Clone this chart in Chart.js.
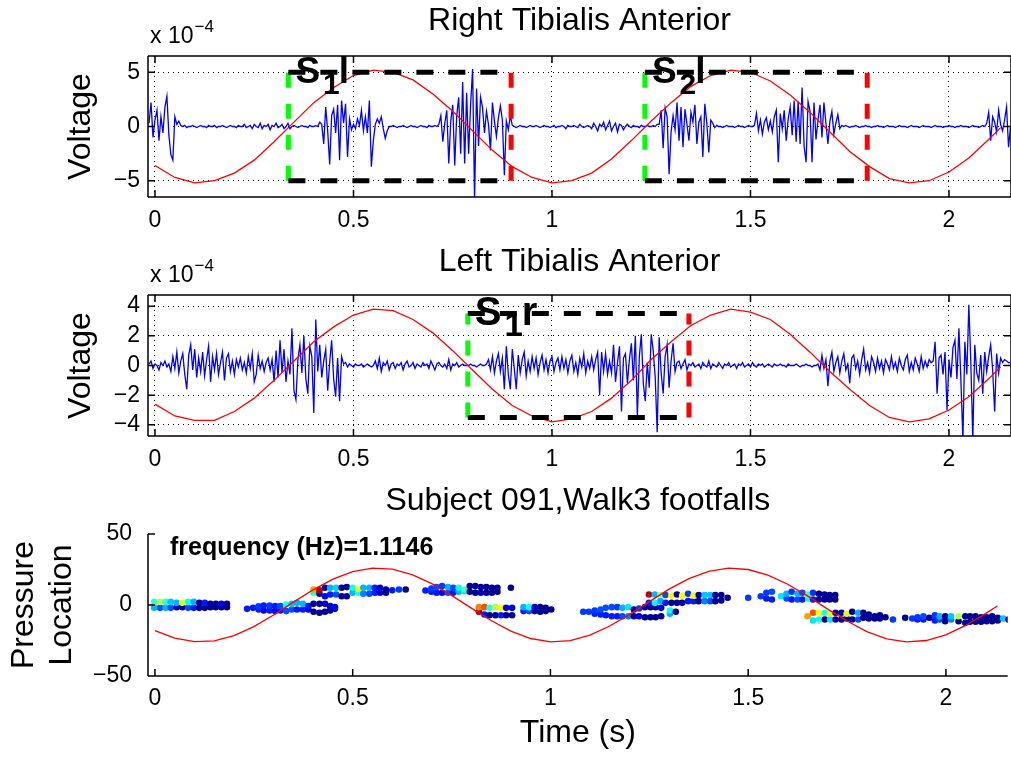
<!DOCTYPE html>
<html>
<head>
<meta charset="utf-8">
<title>Subject 091 Walk3 - tibialis anterior EMG and footfalls</title>
<script src="https://cdn.jsdelivr.net/npm/chart.js@4/dist/chart.umd.min.js"></script>
<style>
  body { margin: 0; background: #fff; }
  #wrap { position: relative; width: 1011px; height: 757px; overflow: hidden; }
  canvas { position: absolute; left: 0; }
</style>
</head>
<body>
<div id="wrap">
  <canvas id="rightTA" width="1011" height="240" style="top:0px"></canvas>
  <canvas id="leftTA" width="1011" height="240" style="top:240px"></canvas>
  <canvas id="footfalls" width="1011" height="277" style="top:480px"></canvas>
</div>
<script>
// EMG channels share one sample grid (seconds), values in units of 1e-4 V
const emgStart = -0.015;
const emgStep = 0.005;

const rightTA = [
  0.3, 2.2, -1.0, 0.6, 1.5, -1.3, 0.9, -0.6, 1.8, 2.8, -0.8, -2.6, -3.1, 0.9, 0.2, 0.5, 0.1,
  0.0, 0.1, -0.1, 0.0, 0.0, 0.1, 0.0, -0.1, 0.0, 0.1,
  0.0, 0.0, -0.1, 0.1, 0.0, 0.0, 0.1, -0.1, 0.0, 0.0,
  0.1, 0.0, -0.1, 0.0, 0.1, 0.0, 0.0, -0.1, 0.1, 0.0,
  0.0, 0.2, -0.1, 0.0, 0.1, -0.2, 0.2, 0.0, -0.1, 0.3,
  -0.2, 0.1, 0.0, 0.2, -0.3, 0.1, 0.0, 0.3, -0.1, 0.0,
  0.2, -0.2, 0.0, 0.3, -0.2, 0.0, 0.1, 0.0, -0.1, 0.0,
  0.1, 0.0, 0.0, -0.1, 0.1, 0.0, 0.0, 0.1, 0.0,
  0.4, 0.2, -1.6, 1.8, -0.4, -3.5, 1.0, 1.6, -0.6, 2.0, -3.1, 2.4, 0.3, 2.1, -2.8, 0.7, -0.3, 0.2,
  -0.2, 0.7, 0.1, 1.5, -0.4, 0.9, -0.6, 2.4, -3.7, -1.3, 0.2, 0.7, 0.3, 0.9, -0.2, -1.1, -0.4, 0.0,
  0.0, 0.1, 0.0, -0.1, 0.0, 0.0, 0.1, 0.0, -0.1, 0.0, 0.1, 0.0, 0.0, -0.1, 0.0, 0.1, 0.0, 0.0, -0.1, 0.1, 0.0, 0.0, 0.1, 0.0,
  0.2, 1.0, -1.4, 0.3, 1.5, -3.4, 0.5, 2.0, -3.6, 1.0, 2.7, -2.5, 4.1, -3.4, 3.1, -2.5, 2.0, 5.3, -6.8,
  3.5, -1.8, 2.7, 1.8, -0.6, 1.4, 0.2, -2.2, 2.2, 0.5, -0.9, 0.8, 1.9, 0.6, -4.5, 0.5, -0.3, 1.0,
  0.1, 0.0, -0.1, 0.0, 0.1, 0.0, 0.0, -0.1, 0.0, 0.1,
  0.0, 0.0, 0.1, 0.0, -0.1, 0.0, 0.1, 0.0, 0.0, -0.1,
  0.0, 0.1, -0.1, 0.0, 0.0, 0.1, 0.0, -0.2, 0.1, 0.0,
  0.0, 0.1, 0.0, -0.1, 0.2, 0.0, -0.1, 0.0, 0.1, 0.0,
  -0.2, 0.3, 0.0, -0.4, 0.2, 0.0, 0.4, -0.3, 0.1, 0.5,
  -0.4, 0.0, 0.3, -0.5, 0.2, 0.1, -0.3, 0.0, 0.2, 0.0,
  -0.1, 0.1, 0.0, 0.0, -0.1, 0.1, 0.0, 0.0, 0.1, 0.0,
  0.0, 0.1, 0.0, 0.2,
  0.2, 1.5, -2.0, 1.7, 0.9, -4.4, -0.5, 1.0, -0.3, 2.2, -1.3, 1.8, -1.9, 1.6, 0.2,
  -1.3, 1.3, 0.4, 2.0, -1.6, 0.4, 0.9, -2.8, 2.1, 0.3, -2.4, 0.6, 0.3, -0.1,
  0.1, 0.0, 0.0, -0.1, 0.0, 0.1, 0.0, 0.0, 0.0, -0.1, 0.0, 0.1, 0.0, 0.0, -0.1, 0.0, 0.1, 0.0, 0.0,
  0.1, 1.2, -0.4, 0.6, -0.7, 0.4, 0.8, -0.3, 0.5, -0.5,
  0.9, 1.5, -3.3, 1.2, -0.2, 1.5, -1.3, 0.7, 1.8, -0.8,
  2.4, -1.4, 2.3, -1.6, 3.6, -1.8, -3.3, 2.3, 1.4, -3.3,
  2.2, -1.2, 0.6, 2.0, -1.0, 2.2, 0.3, -1.6, 0.5, 1.4,
  -0.7, 0.3, 1.1, -0.2, 0.1,
  0.0, 0.1, 0.0, -0.1, 0.0, 0.0, 0.1, 0.0, -0.1, 0.0,
  0.0, 0.1, 0.0, 0.0, -0.1, 0.0, 0.0, 0.1, 0.0, 0.0,
  -0.1, 0.0, 0.1, 0.0, 0.0, 0.0, -0.1, 0.0, 0.1, 0.0,
  0.0, 0.0, -0.1, 0.0, 0.1, 0.0, 0.0, 0.0, -0.1, 0.0,
  0.1, 0.0, 0.0, 0.0, -0.1, 0.0, 0.1, 0.0, 0.0, 0.0,
  -0.1, 0.0, 0.0, 0.1, 0.0, 0.0, -0.1, 0.0, 0.0, 0.1,
  0.0, 0.0, 0.0, -0.1, 0.0, 0.1, 0.0, 0.0, -0.1, 0.0,
  0.1, 0.0,
  0.3, 1.3, -1.3, 0.9, 0.4, -0.5, 1.5, 0.2, -0.4, 0.6, 1.8, -1.9, 0.0
];

const leftTA = [
  0.1, 0.3, -0.2, 0.1, 0.0, -0.3, 0.2, 0.0, 0.3, -0.1, 0.1,
  -0.4, 0.6, -0.2, 0.9, -0.5, 0.3, 0.8, -0.6, -1.6, 0.7,
  1.4, -0.3, 1.1, -0.8, 0.5, -0.4, 0.9, -0.7, 0.4, 1.3,
  -1.1, 0.6, -0.3, 0.8, -0.6, 0.2, 0.9, -1.0, 0.5, 0.8,
  -0.4, 0.3, -0.6, 0.4, -0.1,
  0.5, -0.3, 0.2, -0.5, 0.6, -0.2, 0.8, -1.1,
  -0.6, 0.7, -0.2, 0.3, -0.4, 0.2, 0.5, -0.3, 0.4, -1.1,
  1.0, -0.8, 1.7, -0.5, 1.1, -1.1, 0.3, -0.6, 2.5, -1.7,
  -2.3, 0.4, 1.4, -0.5, 2.0, -0.9, -1.9, 1.3, 0.6, -3.2,
  3.1, -0.4, 1.4, -0.8, 0.3, 1.1, -1.7, 0.2, 1.7, -0.9,
  -2.1, 0.5, -2.4, 0.6, 0.1,
  0.2, -0.1, 0.1, 0.0, -0.1, 0.1, 0.0, 0.0, 0.1, -0.1, 0.0, 0.1, 0.0, -0.1, 0.0,
  0.3, -0.2, 0.5, -0.4, 0.2, 0.0, 0.3, -0.3, 0.1, 0.2,
  -0.2, 0.1, 0.0, 0.2, -0.3, 0.1, 0.3, -0.1, 0.0, 0.2,
  -0.2, 0.1, 0.0, -0.1, 0.2, 0.0, 0.1, -0.2, 0.3, 0.0,
  -0.3, 0.1, 0.2, 0.0, -0.1, 0.1, -0.2, 0.4, -0.3, 0.1,
  0.0, 0.2, -0.1, 0.0, 0.1, 0.0,
  0.0, 0.0, 0.1, 0.0, 0.0, -0.1, 0.0, 0.1, 0.0, 0.0, 0.1,
  0.4, -0.3, 0.6, -0.5, 0.3, 0.8, -0.4, 0.5, -1.6, 1.3,
  -0.6, -1.6, 1.1, -0.2, -1.6, 0.7, -0.5, 0.4, 0.9, -0.7,
  0.3, -0.4, 0.6, -0.2, 0.5, -0.6, 0.2, 0.7, -0.3, 0.4,
  -0.5, 0.3, 0.6, -0.4, 0.2, 0.5,
  -0.3, 0.6, -0.2, 0.4, -0.5, 0.3, 0.7, -0.4, 0.2, -0.6,
  0.5, -0.1, 0.8, -0.5, 0.3, -0.2, 0.6, -0.3, 0.4, 0.9,
  -2.0,
  0.9, -0.4, 0.8, -0.6, 0.3, -0.5, 1.4, -1.1, 0.2, 1.3,
  -3.1, 0.5, 0.8, -1.2, 0.4, 1.5, -1.0, 2.0, -3.4, 0.6,
  2.1, -1.2, -2.4, 0.2, -1.5, 2.1, 1.0, -0.8, -4.5, 1.9,
  -0.5, -1.9, 0.6, 1.4, -1.5, 0.3, 1.5, -0.4, 0.2,
  0.3, -0.2, 0.1, 0.4, -0.3, 0.1, 0.0, 0.2, -0.1, 0.0,
  0.1, -0.2, 0.2, 0.0, -0.1, 0.3, -0.2, 0.1, 0.0, -0.1,
  0.2, 0.0, -0.2, 0.1, 0.0, 0.2, -0.1, 0.0, 0.1, -0.2,
  0.1, 0.0, 0.2, -0.1, 0.0, 0.1, -0.1, 0.2, 0.0, -0.1,
  0.1, 0.0, 0.1, -0.1, 0.0, 0.1, 0.0, -0.1, 0.1, 0.0,
  0.0, 0.1, 0.0, 0.0, -0.1, 0.1, 0.0, 0.0, 0.0, 0.1,
  0.0, -0.1, 0.0, 0.0, 0.1, 0.0, 0.0, -0.1, 0.0, 0.0,
  0.1,
  -0.3, 0.7, -0.2, 0.4, -1.4, 0.3, 0.9, -0.4, 0.2, 0.6,
  -0.5, 0.3, 0.8, -0.3, 0.1, -1.2, 0.5, 0.7, -0.2, 0.3,
  -0.6, 0.4, 1.1, -0.3, 0.2, -0.5, 0.6, 0.2, -0.4, 0.5,
  -0.2, 0.3, -0.5, 0.4, 0.1, -0.3, 0.6, -0.2, 0.2, -0.4,
  0.5, 0.0, -0.3, 0.4, 0.7, -0.4, 0.2, -0.3, 0.5, 0.1,
  -0.4, 0.6, -0.2, 0.3, -0.1, 0.4, 0.2,
  0.3, 1.6, -1.9, 0.5, 0.7, -0.6, 0.9, -3.0, 0.4, -0.8,
  1.2, 1.7, -0.9, 2.5, -1.0, -5.0, 1.6, -0.6, 4.1, 0.2,
  -5.0, 1.4, -0.5, -1.0, 0.7, -1.9, 0.9, -0.4, 0.6, 1.4,
  -0.3, -3.1, 0.8, -0.5, 0.5, 0.2, 0.4, 0.3, 0.2, 0.2
];

// fitted gait rhythm, drawn over every panel
const gaitFrequency = 1.1146;
const fitTime = [
  0.00, 0.05, 0.10, 0.15, 0.20, 0.25, 0.30, 0.35, 0.40, 0.45,
  0.50, 0.55, 0.60, 0.65, 0.70, 0.75, 0.80, 0.85, 0.90, 0.95,
  1.00, 1.05, 1.10, 1.15, 1.20, 1.25, 1.30, 1.35, 1.40, 1.45,
  1.50, 1.55, 1.60, 1.65, 1.70, 1.75, 1.80, 1.85, 1.90, 1.95,
  2.00, 2.05, 2.10, 2.13
];
const fitRight = [
  -3.6, -4.7, -5.2, -5.0, -4.3, -3.1, -1.4, 0.4, 2.2, 3.6,
  4.7, 5.2, 5.0, 4.3, 3.0, 1.4, -0.4, -2.2, -3.7, -4.7,
  -5.2, -5.0, -4.3, -3.0, -1.3, 0.5, 2.2, 3.7, 4.7, 5.2,
  5.0, 4.2, 2.9, 1.3, -0.5, -2.3, -3.7, -4.8, -5.2, -5.0,
  -4.2, -2.9, -1.2, -0.1
];
const fitLeft = [
  -2.6, -3.4, -3.7, -3.7, -3.1, -2.2, -1.0, 0.3, 1.6, 2.6,
  3.4, 3.8, 3.7, 3.1, 2.2, 1.0, -0.3, -1.6, -2.7, -3.4,
  -3.8, -3.6, -3.1, -2.2, -1.0, 0.4, 1.6, 2.7, 3.4, 3.8,
  3.6, 3.1, 2.1, 0.9, -0.4, -1.6, -2.7, -3.5, -3.8, -3.6,
  -3.0, -2.1, -0.9, -0.1
];
const fitPressure = [
  -18.0, -23.3, -25.8, -25.2, -21.5, -15.2, -7.0, 2.0, 10.7, 18.2,
  23.5, 25.9, 25.2, 21.4, 15.0, 6.8, -2.2, -10.9, -18.4, -23.6,
  -25.9, -25.1, -21.2, -14.8, -6.6, 2.4, 11.2, 18.6, 23.7, 25.9,
  25.0, 21.1, 14.6, 6.4, -2.7, -11.3, -18.7, -23.8, -25.9, -25.0,
  -21.0, -14.4, -6.1, -0.7
];

// step windows boxed on the EMG panels
const rightStepStart = [0.336, 1.234];
const rightStepEnd = [0.897, 1.794];
const rightStepNames = ['1', '2'];
const rightBoxLevel = 5;
const leftStepStart = [0.788];
const leftStepEnd = [1.345];
const leftStepNames = ['1'];
const leftBoxLevel = 3.5;

// footfall centre of pressure: one column per frame, top/bottom sensor and its pressure level (0..1)
const footT = [
  -0.002, 0.013, 0.027, 0.040, 0.055, 0.069, 0.084, 0.098, 0.112, 0.126, 0.140, 0.154, 0.168, 0.182,
  0.233, 0.248, 0.262, 0.275, 0.290, 0.304, 0.317, 0.332, 0.346, 0.359, 0.374, 0.388, 0.401, 0.416, 0.430, 0.443, 0.455,
  0.401, 0.416, 0.430, 0.443, 0.458, 0.472, 0.485, 0.500, 0.514, 0.527, 0.542, 0.556, 0.569, 0.584, 0.600, 0.617, 0.634,
  0.684, 0.699, 0.712, 0.726, 0.741, 0.754, 0.768, 0.783, 0.796, 0.810, 0.824, 0.838, 0.852, 0.866, 0.900,
  0.819, 0.833, 0.846, 0.861, 0.875, 0.888, 0.903,
  0.932, 0.946, 0.960, 0.974, 0.988, 1.002,
  1.083, 1.097, 1.112, 1.127, 1.140, 1.155, 1.169, 1.182, 1.197, 1.211, 1.224, 1.239, 1.253, 1.266, 1.280, 1.302, 1.317,
  1.249, 1.264, 1.278, 1.291, 1.306, 1.320, 1.333, 1.348, 1.362, 1.375, 1.390, 1.404, 1.417, 1.432, 1.448, 1.500,
  1.532, 1.546, 1.560, 1.583, 1.597, 1.610, 1.625, 1.637, 1.652, 1.664, 1.679, 1.693, 1.706, 1.720,
  1.650, 1.664, 1.679, 1.694, 1.707, 1.721, 1.736, 1.749, 1.763, 1.778, 1.791, 1.805, 1.820, 1.833, 1.847, 1.866,
  1.897, 1.915, 1.928, 1.943, 1.958, 1.972, 1.984, 1.998, 2.013, 2.032, 2.049, 2.061, 2.075, 2.089, 2.103, 2.117, 2.131, 2.145, 2.158
];
const footHi = [
  2.2, 2.2, 2.2, 2.2, 1.5, 1.5, 2.2, 2.2, 1.5, 1.5, 0.8, 0.8, 0.8, 0.8,
  -2.7, -2.0, -1.0, -0.3, -0.3, -0.8, -0.8, 0.4, 0.8, 1.5, 0.8, -0.8, 0.8, 0.8, 0.8, -0.8, -1.5,
  10.9, 10.4, 12.1, 12.1, 12.1, 12.1, 12.6, 12.1, 11.6, 12.1, 12.1, 12.1, 12.1, 10.9, 10.4, 10.9, 10.9,
  10.2, 11.6, 12.6, 13.3, 12.6, 12.1, 12.1, 10.9, 13.3, 13.3, 12.6, 12.6, 12.1, 12.1, 12.1,
  -1.5, -1.5, -2.0, -1.5, -2.0, -2.0, -2.0,
  -1.5, -1.5, -1.5, -1.5, -2.0, -3.2,
  -4.8, -4.8, -3.9, -3.2, -2.0, -1.5, -1.5, -2.0, -1.5, -3.2, -2.5, -1.5, -1.5, -1.5, -2.0, -3.9, -4.8,
  7.4, 7.4, 7.0, 7.0, 6.6, 7.4, 6.6, 7.9, 6.6, 7.0, 7.0, 7.0, 7.0, 7.0, 5.1, 5.1,
  6.2, 8.6, 9.3, 6.2, 7.9, 9.3, 7.9, 8.6, 7.4, 8.6, 7.9, 7.4, 7.0, 7.0,
  -7.9, -5.5, -5.5, -5.5, -6.2, -5.5, -5.5, -6.2, -4.8, -5.5, -5.5, -6.7, -7.9, -7.2, -8.6, -10.2,
  -9.0, -9.5, -8.6, -7.9, -9.0, -7.2, -7.9, -7.9, -7.9, -7.9, -7.9, -7.9, -7.9, -8.6, -8.6, -7.9, -9.0, -9.5, -10.2
];
const footLo = [
  -2.0, -2.0, -2.0, -2.0, -1.5, -1.5, -2.0, -2.0, -2.0, -2.0, -1.5, -1.5, -1.5, -1.5,
  -2.7, -2.0, -3.2, -3.9, -3.9, -4.3, -3.9, -4.3, -3.2, -3.2, -3.2, -3.2, -4.8, -5.5, -4.8, -3.9, -2.7,
  8.6, 7.9, 6.2, 7.4, 7.4, 6.2, 6.2, 8.6, 8.6, 7.9, 7.9, 8.6, 8.6, 8.6, 10.4, 10.9, 10.9,
  10.2, 9.3, 8.6, 8.6, 8.6, 8.6, 9.3, 9.7, 9.3, 8.6, 8.6, 8.6, 8.6, 9.3, 12.1,
  -4.8, -6.7, -7.2, -7.2, -7.2, -7.2, -7.2,
  -4.3, -4.3, -4.3, -4.8, -4.3, -3.2,
  -4.8, -4.8, -6.2, -6.7, -7.2, -7.9, -7.9, -7.9, -7.9, -7.9, -7.9, -8.6, -8.6, -8.6, -7.9, -6.2, -4.8,
  1.5, 1.5, 2.7, 1.5, 1.5, 1.5, 1.5, 2.7, 2.7, 2.7, 2.7, 2.7, 2.7, 3.2, 5.1, 5.1,
  6.2, 4.6, 3.9, 6.2, 4.6, 3.9, 3.9, 3.9, 4.6, 3.9, 3.9, 3.9, 3.9, 3.9,
  -7.9, -10.9, -10.2, -10.2, -10.2, -10.2, -10.2, -9.5, -10.2, -10.2, -9.0, -9.5, -9.5, -9.5, -8.6, -10.2,
  -9.0, -9.5, -10.2, -10.2, -9.0, -10.9, -10.2, -11.4, -10.2, -11.4, -12.5, -11.8, -11.8, -11.8, -11.4, -11.4, -10.9, -9.5, -10.2
];
const footHiP = [
  0.42, 0.55, 0.42, 0.32, 0.3, 0.6, 0.38, 0.3, 0.02, 0.15, 0.02, 0.02, 0.1, 0.02,
  0.15, 0.15, 0.18, 0.15, 0.18, 0.15, 0.2, 0.4, 0.32, 0.3, 0.3, 0.15, 0.02, 0.02, 0.08, 0.08, 0.1,
  0.72, 0.95, 0.02, 0.3, 0.33, 0.02, 0.02, 0.38, 0.62, 0.3, 0.3, 0.15, 0.08, 0.02, 0.15, 0.18, 0.02,
  0.15, 0.18, 0.2, 0.18, 0.3, 0.2, 0.38, 0.45, 0.02, 0.02, 0.02, 0.02, 0.02, 0.02, 0.02,
  0.75, 0.8, 0.4, 0.55, 0.62, 0.1, 0.1,
  0.3, 0.38, 0.08, 0.02, 0.02, 0.02,
  0.18, 0.18, 0.18, 0.2, 0.2, 0.2, 0.18, 0.3, 0.35, 0.02, 0.18, 0.02, 0.02, 0.02, 0.08, 0.38, 0.02,
  0.95, 0.3, 0.55, 0.2, 0.62, 0.02, 0.62, 0.18, 0.62, 0.02, 0.32, 0.32, 0.02, 0.02, 0.02, 0.18,
  0.18, 0.18, 0.2, 0.35, 0.3, 0.18, 0.3, 0.2, 0.45, 0.18, 0.02, 0.02, 0.02, 0.02,
  0.72, 0.8, 0.62, 0.4, 0.58, 0.02, 0.02, 0.6, 0.02, 0.3, 0.02, 0.02, 0.02, 0.02, 0.02, 0.18,
  0.02, 0.18, 0.18, 0.2, 0.02, 0.18, 0.3, 0.02, 0.32, 0.55, 0.02, 0.02, 0.02, 0.02, 0.02, 0.02, 0.02, 0.32, 0.02
];
const footLoP = [
  0.3, 0.2, 0.3, 0.2, 0.08, 0.02, 0.2, 0.15, 0.02, 0.02, 0.02, 0.02, 0.02, 0.02,
  0.15, 0.15, 0.15, 0.12, 0.15, 0.12, 0.15, 0.2, 0.2, 0.15, 0.15, 0.1, 0.02, 0.02, 0.02, 0.02, 0.08,
  0.4, 0.02, 0.12, 0.15, 0.2, 0.02, 0.02, 0.3, 0.4, 0.25, 0.2, 0.15, 0.08, 0.02, 0.15, 0.18, 0.02,
  0.15, 0.15, 0.15, 0.12, 0.2, 0.15, 0.3, 0.35, 0.02, 0.02, 0.08, 0.02, 0.02, 0.02, 0.02,
  0.97, 0.15, 0.02, 0.02, 0.15, 0.02, 0.02,
  0.15, 0.2, 0.02, 0.02, 0.02, 0.02,
  0.18, 0.18, 0.15, 0.15, 0.15, 0.15, 0.15, 0.2, 0.25, 0.02, 0.12, 0.02, 0.02, 0.02, 0.02, 0.3, 0.02,
  0.15, 0.38, 0.3, 0.15, 0.02, 0.02, 0.02, 0.15, 0.15, 0.02, 0.25, 0.2, 0.02, 0.02, 0.02, 0.18,
  0.18, 0.15, 0.15, 0.35, 0.2, 0.15, 0.2, 0.15, 0.38, 0.15, 0.02, 0.02, 0.02, 0.02,
  0.72, 0.35, 0.4, 0.02, 0.35, 0.02, 0.02, 0.02, 0.02, 0.2, 0.02, 0.02, 0.02, 0.02, 0.02, 0.18,
  0.02, 0.18, 0.15, 0.15, 0.02, 0.15, 0.2, 0.02, 0.25, 0.02, 0.02, 0.02, 0.02, 0.02, 0.02, 0.02, 0.02, 0.32, 0.02
];

const FONT = "'Liberation Sans', Arial, Helvetica, sans-serif";
Chart.defaults.font.family = FONT;
Chart.defaults.color = '#000';
Chart.defaults.animation = false;
Chart.defaults.events = [];

const xMin = -0.0176, xMax = 2.1562;
const minusSign = v => String(v).replace('-', '\u2212');

// MATLAB-style jet colormap
function jet(p) {
  const c = v => Math.round(255 * Math.max(0, Math.min(1, v)));
  return `rgb(${c(1.5 - Math.abs(4 * p - 3))},${c(1.5 - Math.abs(4 * p - 2))},${c(1.5 - Math.abs(4 * p - 1))})`;
}

const emgPoints = vals => vals.map((v, i) => ({x: emgStart + i * emgStep, y: v}));
const fitPoints = vals => vals.map((v, i) => ({x: fitTime[i], y: v}));

function dashed(data, color, dash) {
  return {data, borderColor: color, borderWidth: 5, borderDash: dash, pointRadius: 0, tension: 0};
}

function stepBoxes(starts, ends, level) {
  const sets = [];
  starts.forEach((s, i) => {
    const e = ends[i];
    sets.push(dashed([{x: s, y: level}, {x: e, y: level}], '#000', [17, 15]));
    sets.push(dashed([{x: s, y: -level}, {x: e, y: -level}], '#000', [17, 15]));
    sets.push(dashed([{x: s, y: -level}, {x: s, y: level}], '#00ff00', [15, 16]));
    sets.push(dashed([{x: e, y: -level}, {x: e, y: level}], '#ff0000', [15, 16]));
  });
  return sets;
}

// box, inward ticks, exponent and step labels
const panelDecor = {
  id: 'panelDecor',
  afterDatasetsDraw(chart, args, opts) {
    const {ctx, chartArea: a, scales: {x, y}} = chart;
    const sides = opts.sides || [];
    const tick = 7;
    ctx.save();
    ctx.strokeStyle = '#000';
    ctx.lineWidth = 1.5;
    ctx.beginPath();
    if (sides.includes('top')) { ctx.moveTo(a.left, a.top); ctx.lineTo(a.right, a.top); }
    if (sides.includes('bottom')) { ctx.moveTo(a.left, a.bottom); ctx.lineTo(a.right, a.bottom); }
    if (sides.includes('left')) { ctx.moveTo(a.left, a.top); ctx.lineTo(a.left, a.bottom); }
    if (sides.includes('right')) { ctx.moveTo(a.right, a.top); ctx.lineTo(a.right, a.bottom); }
    x.ticks.forEach(t => {
      const px = x.getPixelForValue(t.value);
      if (sides.includes('bottom')) { ctx.moveTo(px, a.bottom); ctx.lineTo(px, a.bottom - tick); }
      if (sides.includes('top')) { ctx.moveTo(px, a.top); ctx.lineTo(px, a.top + tick); }
    });
    y.ticks.forEach(t => {
      const py = y.getPixelForValue(t.value);
      if (sides.includes('left')) { ctx.moveTo(a.left, py); ctx.lineTo(a.left + tick, py); }
      if (sides.includes('right')) { ctx.moveTo(a.right, py); ctx.lineTo(a.right - tick, py); }
    });
    ctx.stroke();

    ctx.fillStyle = '#000';
    ctx.textBaseline = 'alphabetic';
    if (opts.exponent) {
      ctx.font = `23px ${FONT}`;
      ctx.fillText('x 10', a.left + 2, a.top - 13);
      const w = ctx.measureText('x 10').width;
      ctx.font = `17px ${FONT}`;
      ctx.fillText(opts.exponent, a.left + 3 + w, a.top - 24);
    }
    if (opts.steps) {
      const {starts, names, side, level, size} = opts.steps;
      starts.forEach((s, i) => {
        let px = x.getPixelForValue(s) + 7;
        const base = y.getPixelForValue(level) + 11;
        ctx.font = `bold ${size}px ${FONT}`;
        ctx.fillText('S', px, base);
        px += ctx.measureText('S').width + 3;
        ctx.font = `bold ${Math.round(size * 0.82)}px ${FONT}`;
        ctx.fillText(names[i], px, base + 11);
        px += ctx.measureText(names[i]).width - 1;
        ctx.font = `bold ${size}px ${FONT}`;
        ctx.fillText(side, px, base);
      });
    }
    if (opts.note) {
      ctx.font = `bold 25px ${FONT}`;
      ctx.textBaseline = 'middle';
      ctx.fillText(opts.note.text, x.getPixelForValue(opts.note.x), y.getPixelForValue(opts.note.y));
    }
    ctx.restore();
  }
};

function timeAxis(height, pad, title) {
  return {
    type: 'linear', min: xMin, max: xMax,
    ticks: {stepSize: 0.5, includeBounds: false, padding: pad, font: {size: 23}, maxRotation: 0, autoSkip: false,
      callback: v => String(v)},
    grid: {display: !title, color: '#000', drawTicks: false},
    border: {display: false, dash: [1, 4]},
    title: title ? {display: true, text: title, font: {size: 32}, padding: {top: 0, bottom: 4.8}} : {display: false},
    afterFit: s => { s.height = height; s.paddingLeft = 0; s.paddingRight = 0; }
  };
}

function voltAxis(min, max, step) {
  return {
    min, max,
    ticks: {stepSize: step, includeBounds: false, padding: 8, font: {size: 23}, callback: minusSign},
    grid: {color: '#000', drawTicks: false},
    border: {display: false, dash: [1, 4]},
    title: {display: true, text: 'Voltage', font: {size: 32}, padding: {top: 62, bottom: 0}},
    afterFit: s => { s.width = 148; s.paddingTop = 0; s.paddingBottom = 0; }
  };
}

function titleOpts(text, top, bottom) {
  return {display: true, text, fullSize: false, font: {size: 32, weight: 'normal'}, padding: {top, bottom}};
}

function emgChart(id, title, titlePad, values, fit, yRange, step, steps, xHeight) {
  return new Chart(document.getElementById(id), {
    type: 'line',
    data: {
      datasets: [
        ...stepBoxes(steps.starts, steps.ends, steps.level),
        {data: fitPoints(fit), borderColor: '#ff0000', borderWidth: 1.3, pointRadius: 0, tension: 0},
        {data: emgPoints(values), borderColor: '#0000ff', borderWidth: 1.3, pointRadius: 0, tension: 0}
      ]
    },
    options: {
      responsive: false,
      devicePixelRatio: 1,
      layout: {padding: 0},
      scales: {x: timeAxis(xHeight, 10), y: voltAxis(-yRange, yRange, step)},
      plugins: {
        legend: {display: false},
        tooltip: {enabled: false},
        title: titleOpts(title, titlePad[0], titlePad[1]),
        panelDecor: {sides: ['top', 'right', 'bottom', 'left'], exponent: '\u22124', steps}
      }
    },
    plugins: [panelDecor]
  });
}

emgChart('rightTA', 'Right Tibialis Anterior', [2, 15.6], rightTA, fitRight, 6.5, 5,
  {starts: rightStepStart, ends: rightStepEnd, names: rightStepNames, side: 'l', level: rightBoxLevel, size: 37}, 43);

emgChart('leftTA', 'Left Tibialis Anterior', [3, 13.6], leftTA, fitLeft, 4.75, 2,
  {starts: leftStepStart, ends: leftStepEnd, names: leftStepNames, side: 'r', level: leftBoxLevel, size: 40}, 44);

// footfall dots: bottom sensor first so the top one sits over it
const footDots = [];
const footColors = [];
footT.forEach((t, i) => {
  footDots.push({x: t, y: footLo[i]});
  footColors.push(jet(footLoP[i]));
  if (footHi[i] !== footLo[i]) {
    footDots.push({x: t, y: footHi[i]});
    footColors.push(jet(footHiP[i]));
  }
});

new Chart(document.getElementById('footfalls'), {
  type: 'scatter',
  data: {
    datasets: [
      {data: fitPoints(fitPressure), showLine: true, borderColor: '#ff0000', borderWidth: 1.3, pointRadius: 0, tension: 0},
      {data: footDots, pointBackgroundColor: footColors, pointBorderWidth: 0, pointRadius: 3.3, pointHoverRadius: 0}
    ]
  },
  options: {
    responsive: false,
    devicePixelRatio: 1,
    layout: {padding: 0},
    scales: {
      x: timeAxis(81, 9, 'Time (s)'),
      y: {
        min: -50, max: 50,
        ticks: {stepSize: 50, padding: 8, font: {size: 23}, callback: minusSign},
        grid: {display: false},
        border: {display: false},
        title: {display: true, text: ['Pressure', 'Location'], font: {size: 32}, padding: {top: 5, bottom: 0}},
        afterFit: s => { s.width = 148; s.paddingTop = 0; s.paddingBottom = 0; }
      }
    },
    plugins: {
      legend: {display: false},
      tooltip: {enabled: false},
      title: titleOpts('Subject 091,Walk3 footfalls', 2, 13.6),
      panelDecor: {sides: ['bottom', 'left'], note: {text: `frequency (Hz)=${gaitFrequency}`, x: 0.038, y: 40}}
    }
  },
  plugins: [panelDecor]
});
</script>
</body>
</html>
